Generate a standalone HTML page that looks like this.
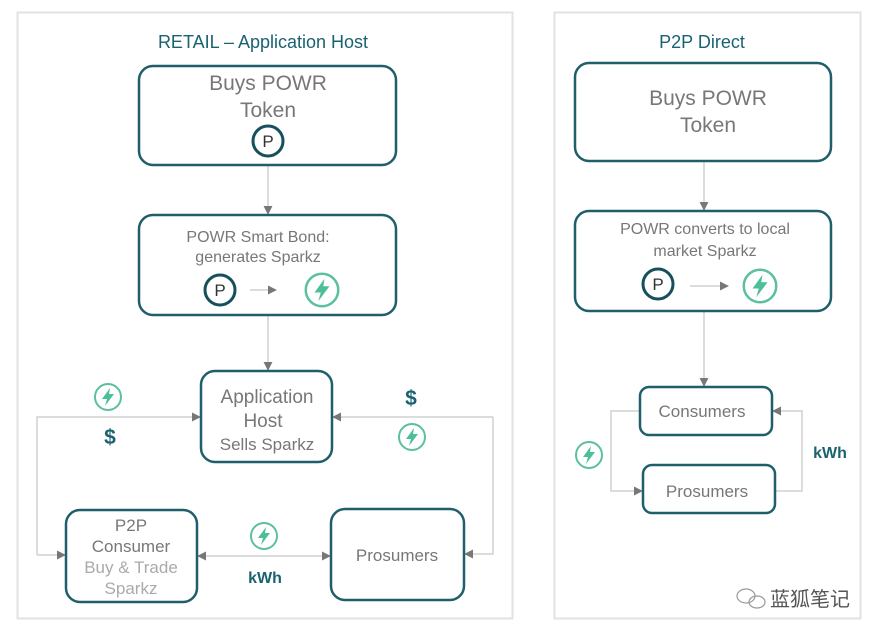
<!DOCTYPE html>
<html><head><meta charset="utf-8"><style>
html,body{margin:0;padding:0;background:#fff;}
svg{display:block;font-family:"Liberation Sans","Noto Sans CJK SC",sans-serif;}
</style></head><body>
<svg width="883" height="636" viewBox="0 0 883 636" xmlns="http://www.w3.org/2000/svg">
<defs>
<marker id="a" viewBox="0 0 10 10" refX="9" refY="5" markerWidth="9" markerHeight="9" markerUnits="userSpaceOnUse" orient="auto"><path d="M0,0 L10,5 L0,10 z" fill="#777"/></marker>
<g id="bolt"><circle r="13" fill="#fff" stroke="#5cc09c" stroke-width="2"/><path d="M2,-9 L-6,2 L-1,2 L-3,9 L6,-3 L1,-3 z" fill="#4cbf96"/></g>
<g id="pc"><circle r="15" fill="#fff" stroke="#17505d" stroke-width="3"/><text y="6" text-anchor="middle" font-size="17" fill="#333">P</text></g>
</defs>
<rect width="883" height="636" fill="#fff"/>
<rect x="17.5" y="12.5" width="495" height="606" fill="none" stroke="#e2e2e2" stroke-width="2"/>
<rect x="554.5" y="12.5" width="306" height="606" fill="none" stroke="#e2e2e2" stroke-width="2"/>
<text x="263" y="48" text-anchor="middle" font-size="18" fill="#1a6272">RETAIL – Application Host</text>
<text x="702" y="48" text-anchor="middle" font-size="18" fill="#1a6272">P2P Direct</text>

<g fill="none" stroke="#d0d0d0" stroke-width="1.5">
<line x1="268" y1="165" x2="268" y2="214" marker-end="url(#a)"/>
<line x1="268" y1="315" x2="268" y2="370" marker-end="url(#a)"/>
<polyline points="37,555 37,417 200,417" marker-end="url(#a)"/>
<line x1="37" y1="555" x2="65" y2="555" marker-end="url(#a)"/>
<polyline points="493,417 493,554 465,554" marker-end="url(#a)"/>
<line x1="493" y1="417" x2="333" y2="417" marker-end="url(#a)"/>
<line x1="240" y1="556" x2="198" y2="556" marker-end="url(#a)"/>
<line x1="240" y1="556" x2="330" y2="556" marker-end="url(#a)"/>
<line x1="704" y1="161" x2="704" y2="210" marker-end="url(#a)"/>
<line x1="704" y1="311" x2="704" y2="386" marker-end="url(#a)"/>
<polyline points="640,411 611,411 611,491 642,491" marker-end="url(#a)"/>
<polyline points="776,491 802,491 802,411 773,411" marker-end="url(#a)"/>
</g>

<g fill="#fff" stroke="#1f5f6b" stroke-width="2.5">
<rect x="139" y="66" width="257" height="99" rx="14"/>
<rect x="139" y="215" width="257" height="100" rx="14"/>
<rect x="201" y="371" width="131" height="91" rx="14"/>
<rect x="66" y="510" width="131" height="92" rx="14"/>
<rect x="331" y="509" width="133" height="91" rx="14"/>
<rect x="575" y="63" width="256" height="98" rx="14"/>
<rect x="575" y="211" width="256" height="100" rx="14"/>
<rect x="640" y="387" width="132" height="48" rx="9"/>
<rect x="643" y="465" width="132" height="48" rx="9"/>
</g>

<g fill="none" stroke="#d0d0d0" stroke-width="1.5">
<line x1="250" y1="290" x2="276" y2="290" marker-end="url(#a)"/>
<line x1="690" y1="286" x2="728" y2="286" marker-end="url(#a)"/>
</g>

<g fill="#777" text-anchor="middle">
<text x="268" y="90" font-size="21">Buys POWR</text>
<text x="268" y="117" font-size="21">Token</text>
<text x="258" y="242" font-size="16">POWR Smart Bond:</text>
<text x="258" y="262" font-size="16">generates Sparkz</text>
<text x="267" y="403" font-size="19">Application</text>
<text x="263" y="427" font-size="19">Host</text>
<text x="267" y="450" font-size="17">Sells Sparkz</text>
<text x="131" y="531" font-size="17">P2P</text>
<text x="131" y="552" font-size="17">Consumer</text>
<text x="131" y="573" font-size="17" fill="#aaa">Buy &amp; Trade</text>
<text x="131" y="594" font-size="17" fill="#aaa">Sparkz</text>
<text x="397" y="561" font-size="17">Prosumers</text>
<text x="708" y="105" font-size="21">Buys POWR</text>
<text x="708" y="132" font-size="21">Token</text>
<text x="705" y="234" font-size="16">POWR converts to local</text>
<text x="705" y="256" font-size="16">market Sparkz</text>
<text x="702" y="417" font-size="17">Consumers</text>
<text x="707" y="497" font-size="17">Prosumers</text>
</g>

<use href="#pc" x="268" y="141"/>
<use href="#pc" x="220" y="290"/>
<use href="#pc" x="658" y="284"/>
<use href="#bolt" x="322" y="290" transform="translate(322,290) scale(1.25) translate(-322,-290)"/>
<use href="#bolt" x="760" y="286" transform="translate(760,286) scale(1.25) translate(-760,-286)"/>
<use href="#bolt" x="108" y="397"/>
<use href="#bolt" x="412" y="437"/>
<use href="#bolt" x="264" y="536"/>
<use href="#bolt" x="589" y="455"/>

<g fill="#1a6272" text-anchor="middle" font-weight="bold">
<text x="110" y="444" font-size="21">$</text>
<text x="411" y="405" font-size="21">$</text>
<text x="265" y="583" font-size="16">kWh</text>
<text x="830" y="458" font-size="16">kWh</text>
</g>

<g fill="none" stroke="#999" stroke-width="1.2">
<ellipse cx="746" cy="596" rx="9" ry="7"/>
<ellipse cx="757" cy="602" rx="8" ry="6"/>
</g>
<text x="770" y="606" font-size="20" fill="#555" font-family="'Noto Sans CJK SC',sans-serif">蓝狐笔记</text>
</svg>
</body></html>
